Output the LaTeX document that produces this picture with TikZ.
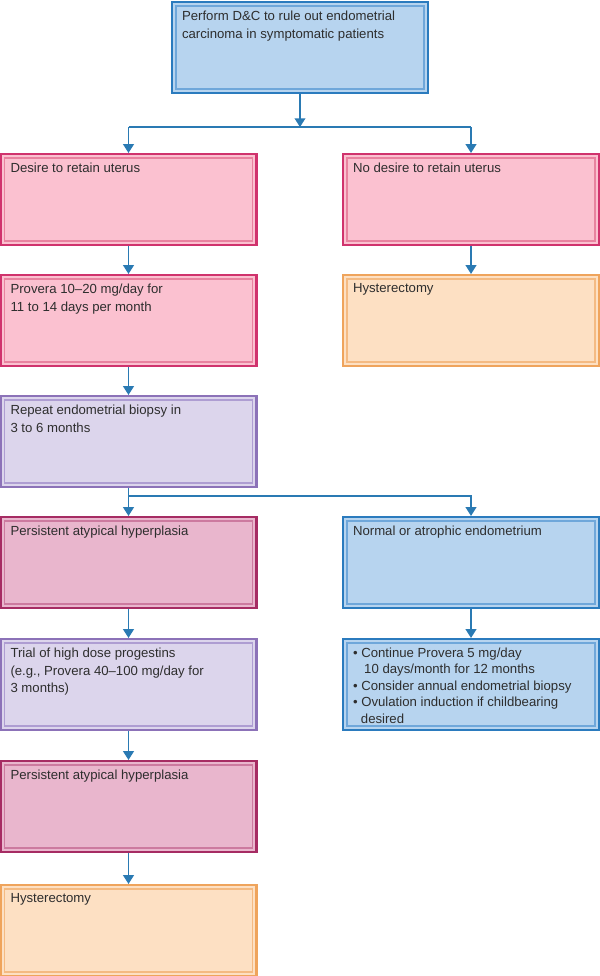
\documentclass[tikz,border=0pt]{standalone}
\usepackage{fontspec}
\setmainfont{Liberation Sans}
\usetikzlibrary{arrows.meta}

\definecolor{bluefill}{HTML}{B7D4EF}
\definecolor{blueline}{HTML}{2B7BBE}
\definecolor{bluein}{HTML}{6FA7DA}
\definecolor{pinkfill}{HTML}{FBC1D0}
\definecolor{pinkline}{HTML}{D0336D}
\definecolor{pinkin}{HTML}{E8829F}
\definecolor{rosefill}{HTML}{E9B6CD}
\definecolor{roseline}{HTML}{A62C63}
\definecolor{rosein}{HTML}{CC7A9F}
\definecolor{lilacfill}{HTML}{DCD5EC}
\definecolor{lilacline}{HTML}{8C72B8}
\definecolor{lilacin}{HTML}{AE9DD2}
\definecolor{peachfill}{HTML}{FDE0C3}
\definecolor{peachline}{HTML}{EFA45C}
\definecolor{peachin}{HTML}{F4BA82}
\definecolor{arrowblue}{HTML}{2A7AB3}
\definecolor{textgray}{HTML}{2E2E2E}

\tikzset{
  inner box/.style={path picture={
      \draw[#1, line width=0.8pt]
        ([shift={(2.3pt,-2.3pt)}]path picture bounding box.north west) rectangle
        ([shift={(-2.3pt,2.3pt)}]path picture bounding box.south east);}},
  flowbox/.style={rectangle, anchor=north, inner xsep=0.2cm, inner ysep=0.17cm,
    line width=1.2pt, text=textgray, font=\fontsize{7.5}{10.2}\selectfont,
    execute at begin node={\begin{minipage}[t][1.48cm][t]{4.72cm}\raggedright},
    execute at end node={\end{minipage}}},
  bluebox/.style={flowbox, fill=bluefill, draw=blueline, inner box=bluein},
  pinkbox/.style={flowbox, fill=pinkfill, draw=pinkline, inner box=pinkin},
  rosebox/.style={flowbox, fill=rosefill, draw=roseline, inner box=rosein},
  lilacbox/.style={flowbox, fill=lilacfill, draw=lilacline, inner box=lilacin},
  peachbox/.style={flowbox, fill=peachfill, draw=peachline, inner box=peachin},
  link/.style={draw=arrowblue, line width=1.1pt},
  flow/.style={link, -{Triangle[width=6pt,length=5pt]}}
}

\begin{document}
\begin{tikzpicture}[x=0.02cm, y=-0.02cm]
  \useasboundingbox (0,0) rectangle (599,976);

  \node[bluebox] (dc) at (300,1) {Perform D\&C to rule out endometrial\\carcinoma in symptomatic patients};

  \node[pinkbox] (keep) at (128.5,153) {Desire to retain uterus};
  \node[pinkbox] (nokeep) at (471,153) {No desire to retain uterus};

  \node[pinkbox] (provera) at (128.5,274) {Provera 10--20 mg/day for\\11 to 14 days per month};
  \node[peachbox] (hyst1) at (471,274) {Hysterectomy};

  \node[lilacbox] (biopsy) at (128.5,395) {Repeat endometrial biopsy in\\3 to 6 months};

  \node[rosebox] (persist1) at (128.5,516) {Persistent atypical hyperplasia};
  \node[bluebox] (normal) at (471,516) {Normal or atrophic endometrium};

  \node[lilacbox] (trial) at (128.5,638) {Trial of high dose progestins\\(e.g., Provera 40--100 mg/day for\\3 months)};
  \node[bluebox, font=\fontsize{7.5}{9.4}\selectfont] (cont) at (471,638) {\textbullet\ Continue Provera 5 mg/day\\
    \hspace*{0.85em}10 days/month for 12 months\\
    \textbullet\ Consider annual endometrial biopsy\\
    \textbullet\ Ovulation induction if childbearing\\
    \hspace*{0.6em}desired};

  \node[rosebox] (persist2) at (128.5,760) {Persistent atypical hyperplasia};
  \node[peachbox] (hyst2) at (128.5,884) {Hysterectomy};

  % branch under the first box
  \path (dc.south) ++(0,33) coordinate (fork1);
  \draw[flow] (dc) -- (fork1);
  \draw[link] (fork1 -| keep) -- (fork1 -| nokeep);
  \draw[flow] (fork1 -| keep) -- (keep);
  \draw[flow] (fork1 -| nokeep) -- (nokeep);

  \draw[flow] (keep) -- (provera);
  \draw[flow] (nokeep) -- (hyst1);
  \draw[flow] (provera) -- (biopsy);

  % branch after the biopsy
  \path (biopsy.south) ++(0,8) coordinate (fork2);
  \draw[flow] (biopsy) -- (persist1);
  \draw[flow] (fork2) -| (normal);

  \draw[flow] (normal) -- (cont);
  \draw[flow] (persist1) -- (trial);
  \draw[flow] (trial) -- (persist2);
  \draw[flow] (persist2) -- (hyst2);
\end{tikzpicture}
\end{document}
